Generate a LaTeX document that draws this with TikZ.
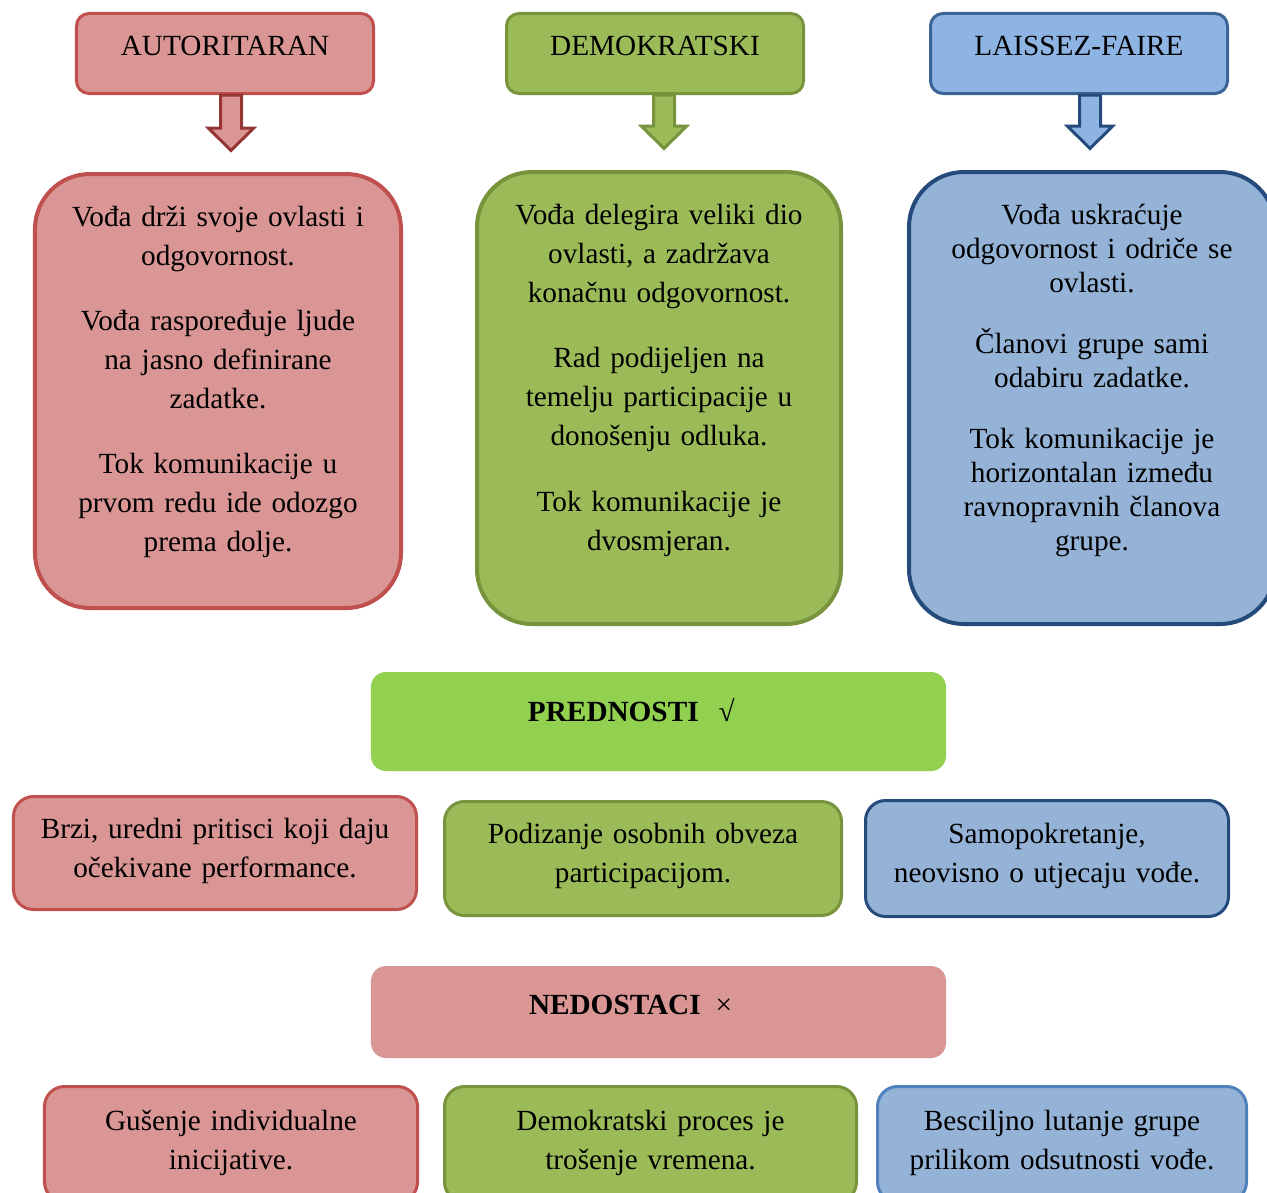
\documentclass[tikz,border=0pt]{standalone}
\usepackage{fontspec}
\setmainfont{Liberation Serif}
\usepackage{tikz}
\usetikzlibrary{calc}
\definecolor{Rose}{HTML}{DA9694}
\definecolor{RoseLine}{HTML}{C0504D}
\definecolor{RoseDark}{HTML}{943634}
\definecolor{Olive}{HTML}{9BBB59}
\definecolor{OliveLine}{HTML}{77933C}
\definecolor{SkyHead}{HTML}{8DB4E2}
\definecolor{SkyHeadLine}{HTML}{3C6496}
\definecolor{Sky}{HTML}{95B3D7}
\definecolor{Navy}{HTML}{254A7C}
\definecolor{Steel}{HTML}{4F81BD}
\definecolor{Lime}{HTML}{92D050}
% block arrow between two boxes: from, to, x offset (px), outline, fill
\newcommand\blockarrow[5]{%
  \draw[barrow={#4}{#5}] let \p1=($(#1.south)+(#3,0)$), \p2=(#2.north) in
    (\x1-4.2pt,\y1) -- (\x1-4.2pt,\y2+17.5pt) -- (\x1-9pt,\y2+17.5pt) -- (\x1,\y2+8.6pt)
    -- (\x1+9pt,\y2+17.5pt) -- (\x1+4.2pt,\y2+17.5pt) -- (\x1+4.2pt,\y1) -- cycle;}
\begin{document}
\begin{tikzpicture}[x=0.4pt,y=-0.4pt,
    t/.style={font=\fontsize{11.7}{15.6}\selectfont,align=center,inner sep=0pt,anchor=base},
    head/.style 2 args={t,draw=#1,fill=#2,line width=1.2pt,rounded corners=5pt,text width=118.8pt,text height=16.6pt,text depth=15.4pt},
    big/.style 2 args={t,draw=#1,fill=#2,line width=1.6pt,rounded corners=22pt,text height=20.8pt},
    item/.style 2 args={t,draw=#1,fill=#2,line width=1.2pt,rounded corners=8pt},
    band/.style={t,align=left,fill=#1,font=\fontsize{11.7}{15.6}\selectfont\bfseries,rounded corners=6pt,text width=230pt},
    barrow/.style 2 args={draw=#1,fill=#2,line width=1.2pt,line join=miter}]
    \useasboundingbox (0,0) rectangle (1267,1193);
    % leadership styles
    \node[head={RoseLine}{Rose}] (hA) at (225,55) {AUTORITARAN};
    \node[head={OliveLine}{Olive}] (hD) at (655,55) {DEMOKRATSKI};
    \node[head={SkyHeadLine}{SkyHead}] (hL) at (1079,55) {LAISSEZ-FAIRE};
    % descriptions
    \node[big={RoseLine}{Rose},text width=146.4pt,text depth=152.8pt] (bA) at (218,226)
      {Vođa drži svoje ovlasti i\\ odgovornost.\\[10.4pt] Vođa raspoređuje ljude\\ na jasno definirane\\ zadatke.\\[10.4pt] Tok komunikacije u\\ prvom redu ide odozgo\\ prema dolje.};
    \node[big={OliveLine}{Olive},text width=145.6pt,text depth=160pt] (bD) at (659,224)
      {Vođa delegira veliki dio\\ ovlasti, a zadržava\\ konačnu odgovornost.\\[10.6pt] Rad podijeljen na\\ temelju participacije u\\ donošenju odluka.\\[10.6pt] Tok komunikacije je\\ dvosmjeran.};
    \node[big={Navy}{Sky},text width=146.4pt,text depth=160pt,font=\fontsize{11.7}{13.6}\selectfont] (bL) at (1092,224)
      {Vođa uskraćuje\\ odgovornost i odriče se\\ ovlasti.\\[10.8pt] Članovi grupe sami\\ odabiru zadatke.\\[10.8pt] Tok komunikacije je\\ horizontalan između\\ ravnopravnih članova\\ grupe.};
    \blockarrow{hA}{bA}{6}{RoseDark}{Rose}
    \blockarrow{hD}{bD}{9}{OliveLine}{Olive}
    \blockarrow{hL}{bL}{11}{Navy}{SkyHead}
    % advantages
    \node[band=Lime,text height=19.6pt,text depth=20pt] (pro) at (658.5,721) {\hspace*{62.8pt}PREDNOSTI\hspace{8pt}{\mdseries √}};
    \node[item={RoseLine}{Rose},text width=161.2pt,text height=16.6pt,text depth=28.6pt] (pA) at (215,838)
      {Brzi, uredni pritisci koji daju\\ očekivane performance.};
    \node[item={OliveLine}{Olive},text width=158.8pt,text height=16.6pt,text depth=29pt] (pD) at (643,843)
      {Podizanje osobnih obveza\\ participacijom.};
    \node[item={Navy}{Sky},text width=145.2pt,text height=17pt,text depth=29.4pt] (pL) at (1047,843)
      {Samopokretanje,\\ neovisno o utjecaju vođe.};
    % disadvantages
    \node[band=Rose,text height=19.2pt,text depth=17.6pt] (con) at (658.5,1014) {\hspace*{63.2pt}NEDOSTACI\hspace{6pt}{\mdseries ×}};
    \node[item={RoseLine}{Rose},text width=149.2pt,text height=17.4pt,text depth=28.8pt] (nA) at (231,1130)
      {Gušenje individualne\\ inicijative.};
    \node[item={OliveLine}{Olive},text width=164.8pt,text height=17.4pt,text depth=28.8pt] (nD) at (650.5,1130)
      {Demokratski proces je\\ trošenje vremena.};
    \node[item={Steel}{Sky},text width=147.6pt,text height=17.4pt,text depth=28.8pt] (nL) at (1062,1130)
      {Besciljno lutanje grupe\\ prilikom odsutnosti vođe.};
  \end{tikzpicture}
\end{document}
